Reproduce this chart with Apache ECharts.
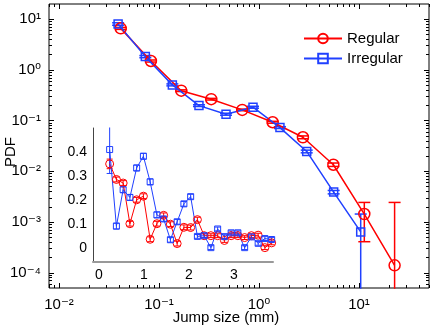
<!DOCTYPE html>
<html>
<head>
<meta charset="utf-8">
<script src="https://cdn.jsdelivr.net/npm/echarts@6/dist/echarts.min.js"></script>
<style>
html, body { margin: 0; padding: 0; background: #fff; }
#chart { width: 443px; height: 330px; }
</style>
</head>
<body>
<div id="chart"></div>
<script>
// main panel (log-log)
const regularX = [0.0414, 0.083, 0.167, 0.333, 0.68, 1.37, 2.75, 5.54, 11.3, 22.7];
const regularY = [6.6, 1.5, 0.39, 0.265, 0.163, 0.093, 0.047, 0.0135, 0.00144, 0.00014];
const regularLow = [6.3, 1.43, 0.375, 0.255, 0.157, 0.089, 0.044, 0.0125, 0.00041, 1e-7];
const regularHigh = [6.9, 1.57, 0.405, 0.275, 0.169, 0.097, 0.050, 0.0146, 0.00244, 0.00244];

const irregularX = [0.039, 0.073, 0.136, 0.251, 0.468, 0.871, 1.62, 3.0, 5.58, 10.4];
const irregularY = [8.05, 1.83, 0.507, 0.198, 0.134, 0.184, 0.073, 0.0247, 0.0039, 0.00064];
const irregularLow = [7.6, 1.74, 0.485, 0.19, 0.128, 0.176, 0.070, 0.0232, 0.0036, 1e-7];
const irregularHigh = [8.5, 1.92, 0.53, 0.206, 0.14, 0.192, 0.076, 0.0262, 0.0042, 0.00144];

// inset (linear)
const insetX = [0.24, 0.39, 0.54, 0.69, 0.84, 0.99, 1.14, 1.29, 1.44, 1.59, 1.74, 1.89, 2.04,
    2.19, 2.34, 2.49, 2.64, 2.79, 2.94, 3.09, 3.24, 3.39, 3.54, 3.69, 3.84];
const insetRegular = [0.35, 0.285, 0.27, 0.10, 0.20, 0.215, 0.035, 0.10, 0.135, 0.098, 0.017, 0.085, 0.084,
    0.117, 0.05, 0.05, 0.05, 0.03, 0.05, 0.05, 0.042, 0.05, 0.052, 0.0, 0.02];
const insetIrregular = [0.41, 0.09, 0.242, 0.21, 0.333, 0.382, 0.275, 0.137, 0.12, 0.033, 0.108, 0.183, 0.213,
    0.047, 0.05, 0.0, 0.078, 0.046, 0.062, 0.062, 0.0, 0.045, 0.018, 0.038, 0.034];
const insetRegularErr = [0.02, 0.01, 0.01, 0.01, 0.01, 0.01, 0.01, 0.01, 0.01, 0.01, 0.01, 0.01, 0.01,
    0.01, 0.008, 0.008, 0.008, 0.008, 0.008, 0.008, 0.008, 0.008, 0.008, 0.008, 0.008];
const insetIrregularErr = [0.1, 0.012, 0.012, 0.012, 0.012, 0.012, 0.012, 0.012, 0.01, 0.01, 0.01, 0.01, 0.01,
    0.008, 0.008, 0.008, 0.008, 0.008, 0.008, 0.008, 0.008, 0.008, 0.008, 0.008, 0.008];

// tick labels
const xDecades = [0.01, 0.1, 1, 10];
const yDecades = [0.0001, 0.001, 0.01, 0.1, 1, 10];
const insetXTicks = [0, 1, 2, 3];
const insetYTicks = [0, 0.1, 0.2, 0.3, 0.4];

const FONT = 'Liberation Sans, Arial, Helvetica, DejaVu Sans, sans-serif';
const RED = '#ff0000';
const BLUE = '#2040ff';

const lg = v => Math.log10(v);
const same = v => v;

function minorTicks(lo, hi) {
    const out = [];
    for (let e = Math.floor(lo); e <= Math.ceil(hi); e++) {
        for (let k = 2; k <= 9; k++) {
            const v = e + Math.log10(k);
            if (v > lo && v < hi) out.push(v);
        }
    }
    return out;
}

const SUP = { '0': '\u2070', '1': '\u00b9', '2': '\u00b2', '3': '\u00b3', '4': '\u2074', '-': '\u207b' };
function powLabel(v) {
    const e = String(Math.round(v));
    return '10' + e.split('').map(c => SUP[c]).join('');
}

const X_MIN = -2.1, X_MAX = 1.7;
const Y_MIN = -4.3, Y_MAX = 1.3;

function logAxis(kind, position, ticks, len, withLabels) {
    const ax = {
        type: 'value',
        gridIndex: 0,
        position: position,
        min: kind === 'x' ? X_MIN : Y_MIN,
        max: kind === 'x' ? X_MAX : Y_MAX,
        axisLine: { show: false, onZero: false },
        splitLine: { show: false },
        axisTick: {
            show: true, inside: true, length: len, customValues: ticks,
            lineStyle: { color: '#000', width: 1 }
        },
        axisLabel: { show: false }
    };
    if (withLabels) {
        ax.axisLabel = {
            show: true,
            customValues: ticks,
            margin: kind === 'x' ? 9 : 8,
            align: kind === 'x' ? 'center' : 'right',
            alignMinLabel: kind === 'x' ? 'center' : null,
            alignMaxLabel: kind === 'x' ? 'center' : null,
            hideOverlap: false,
            fontSize: 15,
            fontFamily: FONT,
            color: '#000',
            formatter: powLabel
        };
    }
    return ax;
}

// error bars as broken line series, caps drawn as thin rect symbols
function errorBarSeries(xs, lows, highs, tx, color, width, cap, axisIndex) {
    const data = [];
    xs.forEach((x, i) => {
        data.push([tx(x), tx(lows[i])], [tx(x), tx(highs[i])], [tx(x), '-']);
    });
    return {
        type: 'line',
        xAxisIndex: axisIndex,
        yAxisIndex: axisIndex,
        data: data,
        connectNulls: false,
        showSymbol: true,
        symbol: 'rect',
        symbolSize: [cap, width],
        lineStyle: { color: color, width: width },
        itemStyle: { color: color },
        silent: true,
        z: 1
    };
}

const xMajor = xDecades.map(lg);
const yMajor = yDecades.map(lg);
const xMinor = minorTicks(X_MIN, X_MAX);
const yMinor = minorTicks(Y_MIN, Y_MAX);

const insetLabel = { fontSize: 14, fontFamily: FONT, color: '#000', margin: 6, hideOverlap: false };

const option = {
    animation: false,
    backgroundColor: '#fff',
    grid: [
        { left: 49, top: 4, right: 14, bottom: 42, show: true, borderColor: '#000', borderWidth: 1,
          backgroundColor: 'transparent', outerBoundsMode: 'none' },
        { left: 93, top: 128, width: 180, height: 134, outerBoundsMode: 'none' }
    ],
    graphic: [
        {
            type: 'text', x: 226, y: 318,
            style: { text: 'Jump size (mm)', font: '15px Liberation Sans, Arial, sans-serif', fill: '#000',
                     align: 'center', verticalAlign: 'middle' }
        },
        {
            type: 'text', x: 11, y: 152, rotation: Math.PI / 2,
            style: { text: 'PDF', font: '15px Liberation Sans, Arial, sans-serif', fill: '#000',
                     align: 'center', verticalAlign: 'middle' }
        }
    ],
    legend: {
        orient: 'vertical',
        left: 298,
        top: 26,
        itemWidth: 38,
        itemHeight: 12,
        itemGap: 5,
        data: ['Regular', 'Irregular'],
        textStyle: { fontSize: 15, fontFamily: FONT, color: '#000' }
    },
    xAxis: [
        logAxis('x', 'bottom', xMajor, 5, true),
        logAxis('x', 'bottom', xMinor, 3, false),
        logAxis('x', 'top', xMajor, 5, false),
        logAxis('x', 'top', xMinor, 3, false),
        {
            type: 'value', gridIndex: 1, position: 'bottom', min: -0.13, max: 3.87,
            splitLine: { show: false },
            axisLine: { show: true, onZero: false, lineStyle: { color: '#999', width: 2 } },
            axisTick: { show: false },
            axisLabel: Object.assign({ customValues: insetXTicks }, insetLabel)
        }
    ],
    yAxis: [
        logAxis('y', 'left', yMajor, 5, true),
        logAxis('y', 'left', yMinor, 3, false),
        logAxis('y', 'right', yMajor, 5, false),
        logAxis('y', 'right', yMinor, 3, false),
        {
            type: 'value', gridIndex: 1, position: 'left', min: -0.06, max: 0.5,
            splitLine: { show: false },
            axisLine: { show: true, onZero: false, lineStyle: { color: '#444', width: 1 } },
            axisTick: { show: false },
            axisLabel: Object.assign({
                customValues: insetYTicks,
                formatter: v => (v === 0 ? '0' : v.toFixed(1))
            }, insetLabel)
        }
    ],
    series: [
        errorBarSeries(regularX, regularLow, regularHigh, lg, RED, 1.5, 12, 0),
        errorBarSeries(irregularX, irregularLow, irregularHigh, lg, BLUE, 1.5, 12, 0),
        {
            name: 'Regular', type: 'line', xAxisIndex: 0, yAxisIndex: 0,
            symbol: 'circle', symbolSize: 11,
            lineStyle: { color: RED, width: 1.5 },
            itemStyle: { color: 'rgba(255,255,255,0)', borderColor: RED, borderWidth: 1.5 },
            data: regularX.map((x, i) => [lg(x), lg(regularY[i])])
        },
        {
            name: 'Irregular', type: 'line', xAxisIndex: 0, yAxisIndex: 0,
            symbol: 'rect', symbolSize: 8,
            lineStyle: { color: BLUE, width: 1.5 },
            itemStyle: { color: 'rgba(255,255,255,0)', borderColor: BLUE, borderWidth: 1.5 },
            data: irregularX.map((x, i) => [lg(x), lg(irregularY[i])])
        },
        errorBarSeries(insetX, insetX.map((x, i) => insetRegular[i] - insetRegularErr[i]),
            insetX.map((x, i) => insetRegular[i] + insetRegularErr[i]), same, RED, 1, 6, 4),
        errorBarSeries(insetX, insetX.map((x, i) => insetIrregular[i] - insetIrregularErr[i]),
            insetX.map((x, i) => insetIrregular[i] + insetIrregularErr[i]), same, BLUE, 1, 6, 4),
        {
            name: 'insetRegular', type: 'line', xAxisIndex: 4, yAxisIndex: 4,
            symbol: 'circle', symbolSize: 8,
            lineStyle: { color: RED, width: 1 },
            itemStyle: { color: 'rgba(255,255,255,0)', borderColor: RED, borderWidth: 1 },
            data: insetX.map((x, i) => [x, insetRegular[i]])
        },
        {
            name: 'insetIrregular', type: 'line', xAxisIndex: 4, yAxisIndex: 4,
            symbol: 'rect', symbolSize: 6,
            lineStyle: { color: BLUE, width: 1 },
            itemStyle: { color: 'rgba(255,255,255,0)', borderColor: BLUE, borderWidth: 1 },
            data: insetX.map((x, i) => [x, insetIrregular[i]])
        }
    ]
};

const chart = echarts.init(document.getElementById('chart'), null, { renderer: 'canvas' });
chart.setOption(option);
</script>
</body>
</html>
